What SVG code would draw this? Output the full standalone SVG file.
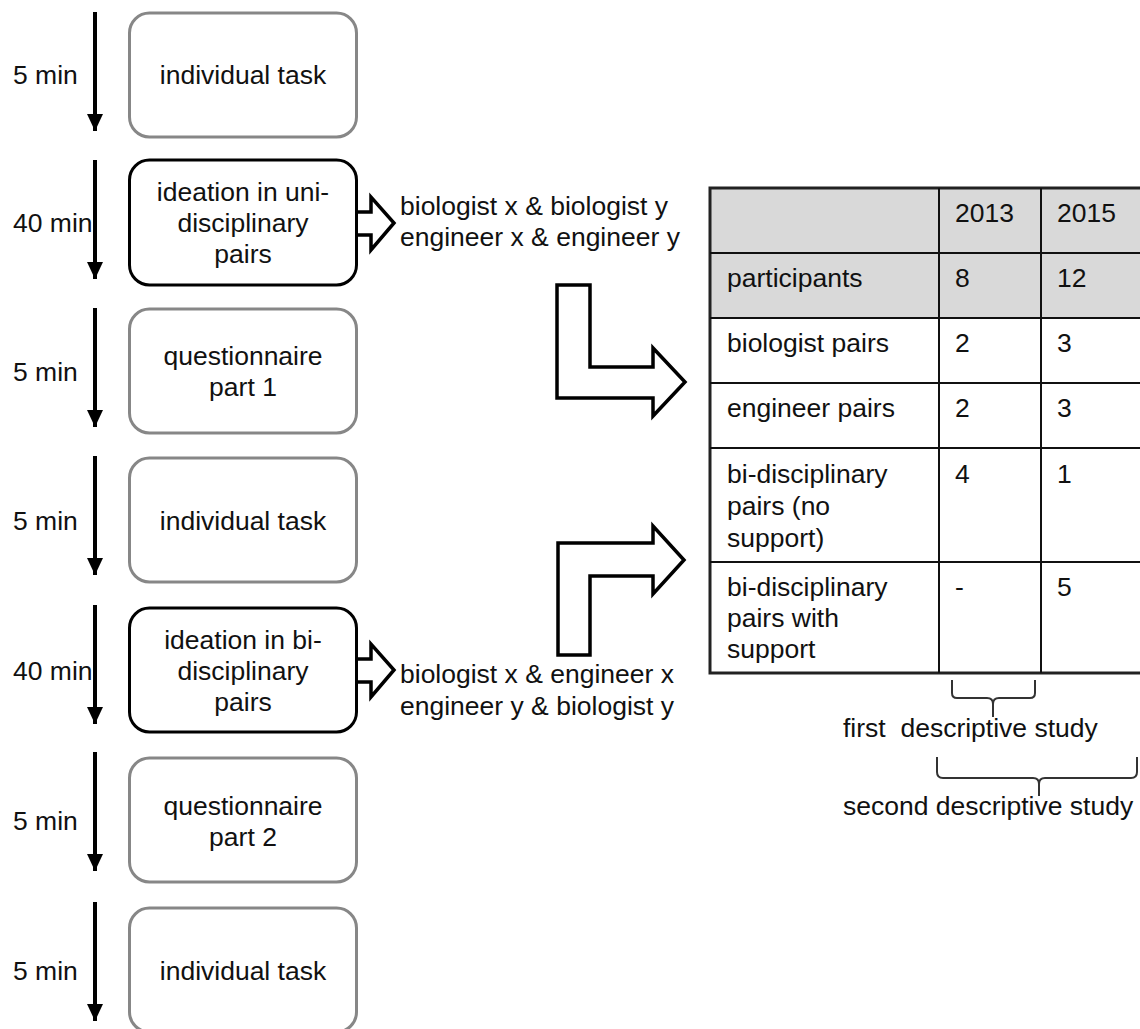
<svg xmlns="http://www.w3.org/2000/svg" width="1140" height="1029" viewBox="0 0 1140 1029">
  <style>
    text { font-family: "Liberation Sans", Arial, sans-serif; font-size: 26.5px; fill: #111; }
    .mid { text-anchor: middle; }
    .step { fill: #fff; stroke: #878787; stroke-width: 3; }
    .step.key { stroke: #000; }
    .time { stroke: #000; stroke-width: 4; fill: none; }
    .block { fill: #fff; stroke: #000; stroke-width: 3.5; stroke-linejoin: miter; }
    .grid { stroke: #111; stroke-width: 2; fill: none; }
    .brace { stroke: #333; stroke-width: 2; fill: none; }
  </style>
  <defs>
    <marker id="head" markerUnits="userSpaceOnUse" markerWidth="17" markerHeight="16" refX="17" refY="8" orient="auto">
      <path d="M0,0 L17,8 L0,16 Z" fill="#000"/>
    </marker>
  </defs>

  <!-- time arrows and durations -->
  <g id="connectors">
    <line class="time" x1="95" y1="12" x2="95" y2="131" marker-end="url(#head)"/>
    <line class="time" x1="95" y1="160" x2="95" y2="279" marker-end="url(#head)"/>
    <line class="time" x1="95" y1="308" x2="95" y2="427" marker-end="url(#head)"/>
    <line class="time" x1="95" y1="456" x2="95" y2="575" marker-end="url(#head)"/>
    <line class="time" x1="95" y1="605" x2="95" y2="724" marker-end="url(#head)"/>
    <line class="time" x1="95" y1="752" x2="95" y2="871" marker-end="url(#head)"/>
    <line class="time" x1="95" y1="902" x2="95" y2="1021" marker-end="url(#head)"/>

    <!-- block arrows from ideation steps -->
    <polygon class="block" points="347,212 371,212 371,197 394,223 371,250 371,235 347,235"/>
    <polygon class="block" points="347,659 371,659 371,644 394,670 371,697 371,682 347,682"/>

    <!-- bent arrows into the table -->
    <polygon class="block" points="557,285 590,285 590,367 653,367 653,348 685,382 653,416 653,398 557,398"/>
    <polygon class="block" points="558,655 558,543 653,543 653,526 684,560 653,594 653,576 590,576 590,655"/>
  </g>

  <g id="durations">
    <text x="13" y="84">5 min</text>
    <text x="13" y="232">40 min</text>
    <text x="13" y="381">5 min</text>
    <text x="13" y="530">5 min</text>
    <text x="13" y="680">40 min</text>
    <text x="13" y="830">5 min</text>
    <text x="13" y="980">5 min</text>
  </g>

  <g id="step1">
    <rect class="step" x="129.5" y="13" width="227" height="124" rx="20"/>
    <text class="mid" x="243" y="84">individual task</text>
  </g>
  <g id="step2">
    <rect class="step key" x="129.5" y="160" width="227" height="125" rx="20"/>
    <text class="mid" x="243" y="201">ideation in uni-</text>
    <text class="mid" x="243" y="232">disciplinary</text>
    <text class="mid" x="243" y="263">pairs</text>
  </g>
  <g id="step3">
    <rect class="step" x="129.5" y="309" width="227" height="124" rx="20"/>
    <text class="mid" x="243" y="365">questionnaire</text>
    <text class="mid" x="243" y="396">part 1</text>
  </g>
  <g id="step4">
    <rect class="step" x="129.5" y="458" width="227" height="124" rx="20"/>
    <text class="mid" x="243" y="530">individual task</text>
  </g>
  <g id="step5">
    <rect class="step key" x="129.5" y="608" width="227" height="124" rx="20"/>
    <text class="mid" x="243" y="649">ideation in bi-</text>
    <text class="mid" x="243" y="680">disciplinary</text>
    <text class="mid" x="243" y="711">pairs</text>
  </g>
  <g id="step6">
    <rect class="step" x="129.5" y="758" width="227" height="124" rx="20"/>
    <text class="mid" x="243" y="815">questionnaire</text>
    <text class="mid" x="243" y="846">part 2</text>
  </g>
  <g id="step7">
    <rect class="step" x="129.5" y="908" width="227" height="124" rx="20"/>
    <text class="mid" x="243" y="980">individual task</text>
  </g>

  <g id="pairs-uni">
    <text x="400" y="215">biologist x &amp; biologist y</text>
    <text x="400" y="246">engineer x &amp; engineer y</text>
  </g>
  <g id="pairs-bi">
    <text x="400" y="683">biologist x &amp; engineer x</text>
    <text x="400" y="715">engineer y &amp; biologist y</text>
  </g>

  <!-- participant table -->
  <g id="table">
    <rect x="710" y="188" width="440" height="130" fill="#d9d9d9"/>
    <rect x="710" y="188" width="440" height="485" fill="none" stroke="#222" stroke-width="3"/>
    <path class="grid" d="M710,253 H1150 M710,318 H1150 M710,383 H1150 M710,448 H1150 M710,562 H1150 M939,188 V673 M1041,188 V673"/>

    <text x="955" y="222">2013</text>
    <text x="1057" y="222">2015</text>

    <text x="727" y="287">participants</text>
    <text x="955" y="287">8</text>
    <text x="1057" y="287">12</text>

    <text x="727" y="352">biologist pairs</text>
    <text x="955" y="352">2</text>
    <text x="1057" y="352">3</text>

    <text x="727" y="417">engineer pairs</text>
    <text x="955" y="417">2</text>
    <text x="1057" y="417">3</text>

    <text x="727" y="483">bi-disciplinary</text>
    <text x="727" y="515">pairs (no</text>
    <text x="727" y="547">support)</text>
    <text x="955" y="483">4</text>
    <text x="1057" y="483">1</text>

    <text x="727" y="596">bi-disciplinary</text>
    <text x="727" y="627">pairs with</text>
    <text x="727" y="658">support</text>
    <text x="955" y="596">-</text>
    <text x="1057" y="596">5</text>
  </g>

  <g id="study-first">
    <path class="brace" d="M952,680 V693 Q952,698 957,698 H987 Q993,698 993,704 V717 M993,704 Q993,698 999,698 H1030 Q1035,698 1035,693 V680"/>
    <text x="843" y="737" xml:space="preserve">first  descriptive study</text>
  </g>
  <g id="study-second">
    <path class="brace" d="M937,757 V772 Q937,778 943,778 H1033 Q1039,778 1039,784 V796 M1039,784 Q1039,778 1045,778 H1131 Q1137,778 1137,772 V757"/>
    <text x="843" y="815">second descriptive study</text>
  </g>
</svg>
